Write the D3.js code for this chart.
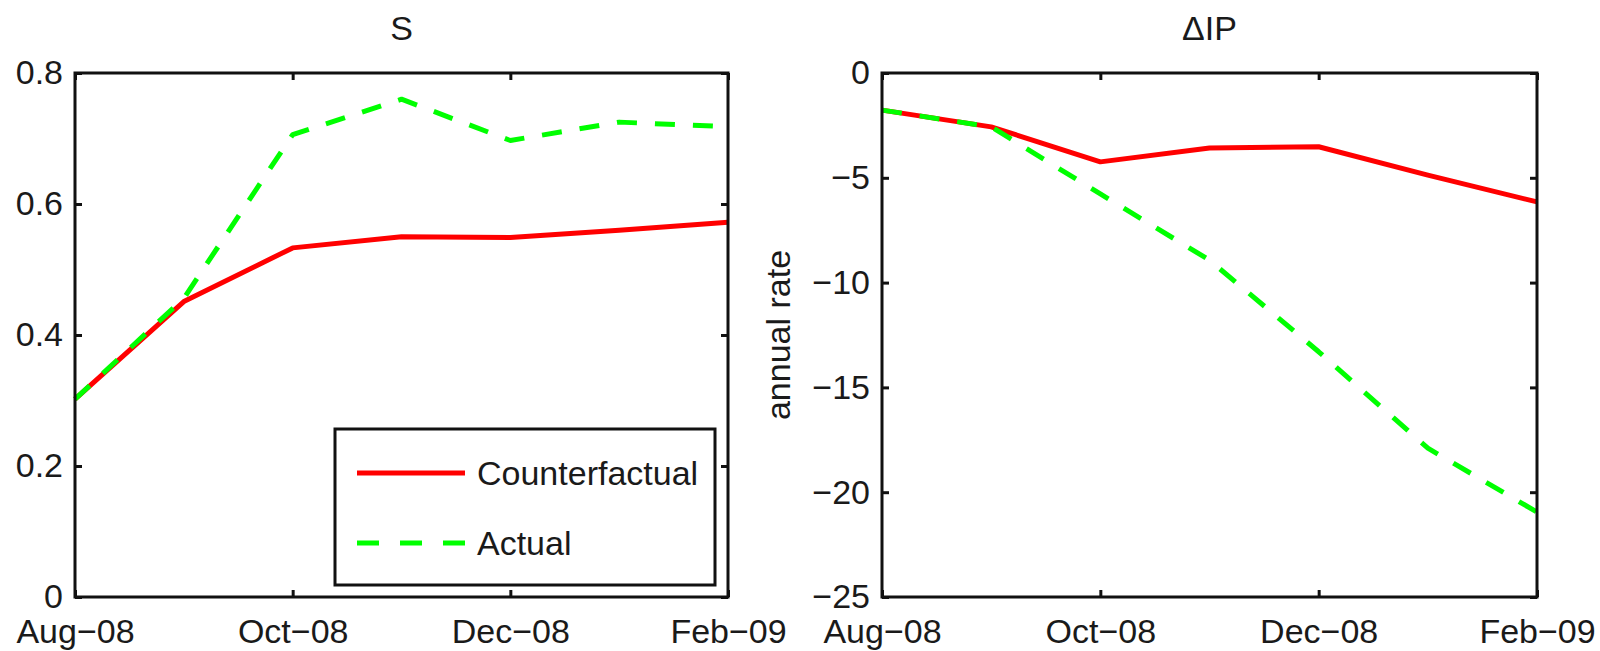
<!DOCTYPE html>
<html>
<head>
<meta charset="utf-8">
<script src="https://cdn.jsdelivr.net/npm/d3@7"></script>
<style>
  html, body { margin: 0; padding: 0; background: #fff; }
  svg { display: block; }
  text { font-family: "Liberation Sans", Arial, sans-serif; fill: #1a1a1a; }
</style>
</head>
<body>
<svg id="fig" width="1600" height="651"></svg>
<script>
// Monthly observations, Aug-08 through Feb-09
const months = ["Aug-08", "Sep-08", "Oct-08", "Nov-08", "Dec-08", "Jan-09", "Feb-09"];
const monthTicks = ["Aug-08", "Oct-08", "Dec-08", "Feb-09"];
const monthTickLabels = ["Aug\u221208", "Oct\u221208", "Dec\u221208", "Feb\u221209"];

// Panel S
const sCounterfactual = [0.302, 0.451, 0.533, 0.550, 0.549, 0.560, 0.572];
const sActual         = [0.302, 0.456, 0.706, 0.760, 0.697, 0.725, 0.718];
const sTicks = [0, 0.2, 0.4, 0.6, 0.8];

// Panel ΔIP (annual rate)
const ipCounterfactual = [-1.77, -2.57, -4.24, -3.58, -3.52, -4.87, -6.15];
const ipActual         = [-1.77, -2.57, -5.77, -8.93, -13.3, -17.9, -20.95];
const ipTicks = [-25, -20, -15, -10, -5, 0];

const legendNames = ["Counterfactual", "Actual"];

const RED = "#ff0000", GREEN = "#00ff00";
const FONT = 34;
const svg = d3.select("#fig");

function panel(opts) {
  const { x0, x1, y0, y1, domain, ticks, fmt, series, title, ylabel } = opts;
  const g = svg.append("g");

  const x = d3.scalePoint().domain(months).range([x0, x1]).padding(0);
  const y = d3.scaleLinear().domain(domain).range([y1, y0]);

  // Data lines (drawn first so the frame sits on top)
  const line = d3.line().x((d, i) => x(months[i])).y(d => y(d));
  series.forEach(s => {
    g.append("path")
      .datum(s.values)
      .attr("d", line)
      .attr("fill", "none")
      .attr("stroke", s.color)
      .attr("stroke-width", 5)
      .attr("stroke-linejoin", "round")
      .attr("stroke-dasharray", s.dash || null);
  });

  const tickLen = 7;
  const styleAxis = sel => {
    sel.select(".domain").remove();
    sel.selectAll(".tick line").attr("stroke", "#111").attr("stroke-width", 3);
    sel.selectAll(".tick text")
      .attr("font-size", FONT)
      .style("font-family", '"Liberation Sans", Arial, sans-serif')
      .attr("fill", "#1a1a1a");
  };

  // Bottom axis with month labels
  g.append("g")
    .attr("transform", `translate(0,${y1})`)
    .call(d3.axisBottom(x).tickValues(monthTicks)
      .tickFormat(d => monthTickLabels[monthTicks.indexOf(d)])
      .tickSizeInner(-tickLen).tickSizeOuter(0).tickPadding(22))
    .call(styleAxis);

  // Top mirrored ticks
  g.append("g")
    .attr("transform", `translate(0,${y0})`)
    .call(d3.axisTop(x).tickValues(monthTicks).tickFormat("")
      .tickSizeInner(-tickLen).tickSizeOuter(0))
    .call(styleAxis);

  // Left axis with numeric labels
  g.append("g")
    .attr("transform", `translate(${x0},0)`)
    .call(d3.axisLeft(y).tickValues(ticks).tickFormat(fmt)
      .tickSizeInner(-tickLen).tickSizeOuter(0).tickPadding(12))
    .call(styleAxis);

  // Right mirrored ticks
  g.append("g")
    .attr("transform", `translate(${x1},0)`)
    .call(d3.axisRight(y).tickValues(ticks).tickFormat("")
      .tickSizeInner(-tickLen).tickSizeOuter(0))
    .call(styleAxis);

  // Box frame
  g.append("rect")
    .attr("x", x0).attr("y", y0)
    .attr("width", x1 - x0).attr("height", y1 - y0)
    .attr("fill", "none").attr("stroke", "#111").attr("stroke-width", 3);

  // Title
  g.append("text")
    .attr("x", (x0 + x1) / 2).attr("y", 40)
    .attr("text-anchor", "middle")
    .attr("font-size", FONT)
    .text(title);

  if (ylabel) {
    g.append("text")
      .attr("transform", `translate(${x0 - 92},${(y0 + y1) / 2}) rotate(-90)`)
      .attr("text-anchor", "middle")
      .attr("font-size", FONT)
      .text(ylabel);
  }
  return { g, x, y };
}

const left = panel({
  x0: 75, x1: 728, y0: 73, y1: 597,
  domain: [0, 0.8], ticks: sTicks,
  fmt: d => d === 0 ? "0" : d3.format(".1f")(d),
  series: [
    { values: sCounterfactual, color: RED },
    { values: sActual, color: GREEN, dash: "20,18" }
  ],
  title: "S"
});

panel({
  x0: 882, x1: 1537, y0: 73, y1: 597,
  domain: [-25, 0], ticks: ipTicks,
  fmt: d3.format("d"),
  series: [
    { values: ipCounterfactual, color: RED },
    { values: ipActual, color: GREEN, dash: "20,18" }
  ],
  title: "\u0394IP",
  ylabel: "annual rate"
});

// Legend inside the S panel
const leg = left.g.append("g");
leg.append("rect")
  .attr("x", 335).attr("y", 429).attr("width", 380).attr("height", 156)
  .attr("fill", "#fff").attr("stroke", "#111").attr("stroke-width", 3);
const legendStyles = [
  { color: RED, dash: null },
  { color: GREEN, dash: "22,21" }
];
legendNames.forEach((name, i) => {
  const yy = 473 + i * 70;
  leg.append("line")
    .attr("x1", 357).attr("x2", 465).attr("y1", yy).attr("y2", yy)
    .attr("stroke", legendStyles[i].color).attr("stroke-width", 5)
    .attr("stroke-dasharray", legendStyles[i].dash);
  leg.append("text")
    .attr("x", 477).attr("y", yy).attr("dy", "0.35em")
    .attr("font-size", FONT)
    .text(name);
});
</script>
</body>
</html>
